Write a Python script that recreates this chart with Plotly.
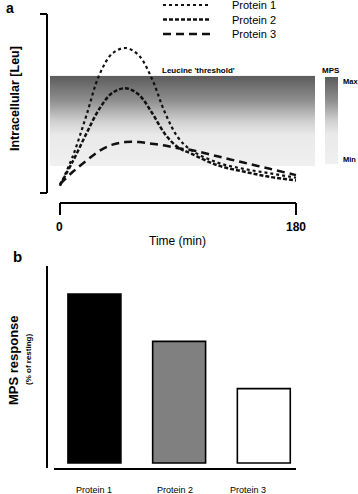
import plotly.graph_objects as go

# ---------------- data ----------------
time_min = [0, 10, 20, 30, 40, 50, 60, 70, 80, 90, 100, 120, 140, 160, 180]
leu_protein1 = [4, 21, 43, 66, 78, 81, 77, 64, 45, 31, 24, 17, 13.5, 11, 8.5]
leu_protein2 = [4.5, 18, 33, 47, 56, 58.5, 55, 45, 33, 25.5, 22, 15.5, 12, 9, 7]
leu_protein3 = [5, 12, 18, 23.5, 27, 28.5, 28.5, 27.5, 26.5, 25, 24, 20.5, 17, 13.5, 10]
series_names = ["Protein 1", "Protein 2", "Protein 3"]

threshold_low = 15.1   # Leu level where MPS gradient starts (Min)
threshold_high = 65.4  # Leu level of full MPS (Max)

proteins = ["Protein 1", "Protein 2", "Protein 3"]
mps_response = [100, 72, 44]

# ---------------- geometry helpers (pixels) ----------------
W, H = 358, 494
def px(x): return x / W
def py(y): return 1 - y / H

T0PX, T180PX = 60, 296
def t_of(xpx): return (xpx - T0PX) / (T180PX - T0PX) * 180

fig = go.Figure()

# gradient "MPS" band
n = 90
ys = [threshold_low + (threshold_high - threshold_low) * i / n for i in range(n + 1)]
zs = [[(i + 0.5) / n] for i in range(n)]
cscale = [[0.0, "#f0f0f0"], [0.35, "#e9e9e9"], [0.5, "#cfcfcf"],
          [0.73, "#8e8e8e"], [1.0, "#5c5c5c"]]
fig.add_trace(go.Heatmap(
    x=[t_of(50), t_of(315)], y=ys, z=zs, colorscale=cscale, zmin=0, zmax=1,
    xaxis="x", yaxis="y", hoverinfo="skip",
    colorbar=dict(x=px(325), xanchor="left", y=py(120.5), yanchor="middle",
                  len=(164 - 77) / H, lenmode="fraction", thickness=13,
                  xpad=0, ypad=0, outlinewidth=0, showticklabels=False, ticks=""),
))

styles = [dict(dash="dot", width=2.2), dict(dash="4px,2px", width=2.5), dict(dash="8px,5px", width=2.5)]
for name, vals, st in zip(series_names, [leu_protein1, leu_protein2, leu_protein3], styles):
    fig.add_trace(go.Scatter(x=time_min, y=vals, mode="lines", name=name,
                             line=dict(color="#111", shape="spline", smoothing=1.0, **st),
                             xaxis="x", yaxis="y", showlegend=False, hoverinfo="skip"))

# bars
fig.add_trace(go.Bar(x=[0, 1, 2], y=mps_response, width=0.625,
                     marker=dict(color=["#000000", "#808080", "#ffffff"],
                                 line=dict(color="#000", width=1.6)),
                     xaxis="x2", yaxis="y2", showlegend=False, hoverinfo="skip"))

shapes = []
blk = dict(color="#000", width=2)
# Leu bracket
shapes += [
    dict(type="line", xref="paper", yref="paper", x0=px(47), x1=px(47), y0=py(14), y1=py(193), line=blk),
    dict(type="line", xref="paper", yref="paper", x0=px(40), x1=px(47), y0=py(14), y1=py(14), line=blk),
    dict(type="line", xref="paper", yref="paper", x0=px(40), x1=px(47), y0=py(193), y1=py(193), line=blk),
]
# time bracket
shapes += [
    dict(type="line", xref="x", yref="paper", x0=0, x1=180, y0=py(203), y1=py(203), line=blk),
    dict(type="line", xref="x", yref="paper", x0=0, x1=0, y0=py(203), y1=py(215), line=blk),
    dict(type="line", xref="x", yref="paper", x0=180, x1=180, y0=py(203), y1=py(215), line=blk),
]
# legend samples
for i, st in enumerate(styles):
    yy = py(5 + i * 14.5)
    shapes.append(dict(type="line", xref="paper", yref="paper", x0=px(163), x1=px(210),
                       y0=yy, y1=yy, line=dict(color="#111", dash=st["dash"], width=st["width"])))
# panel b axes
shapes += [
    dict(type="line", xref="paper", yref="paper", x0=px(47), x1=px(47), y0=py(266), y1=py(468), line=blk),
    dict(type="line", xref="paper", yref="paper", x0=px(54), x1=px(296), y0=py(469), y1=py(469), line=blk),
]

FONT = "Liberation Sans, Arial, sans-serif"
def ann(text, x, y, size, bold=False, xanchor="center", angle=0, **kw):
    t = f"<b>{text}</b>" if bold else text
    return dict(text=t, x=x, y=y, xref="paper", yref="paper", showarrow=False,
                xanchor=xanchor, yanchor="middle", textangle=angle,
                font=dict(family=FONT, size=size, color="#000"), **kw)

annotations = [
    ann("a", px(10), py(8), 14, bold=True),
    ann("b", px(17), py(256), 15, bold=True),
    ann("Intracellular [Leu]", px(15), py(99), 12.5, bold=True, angle=-90),
    ann("Leucine 'threshold'", px(160), py(70), 8, bold=True, xanchor="left"),
    ann("MPS", px(331), py(70), 8, bold=True),
    ann("Max", px(341), py(81), 7.5, bold=True, xanchor="left"),
    ann("Min", px(341), py(159), 7.5, bold=True, xanchor="left"),
    ann("0", px(T0PX), py(227), 12, bold=True),
    ann("180", px(T180PX), py(227), 12, bold=True),
    ann("Time (min)", px(177), py(241), 12),
    ann("MPS response", px(13), py(360), 13, bold=True, angle=-90),
    ann("(% of resting)", px(28), py(360), 8, bold=True, angle=-90),
]
for i, name in enumerate(series_names):
    annotations.append(ann(name, px(230), py(5 + i * 14.5), 11, xanchor="left"))
label_shift = [0, -4, -16]
for i, p in enumerate(proteins):
    annotations.append(dict(text=p, x=i, y=py(490), xref="x2", yref="paper", showarrow=False,
                            xanchor="center", yanchor="middle", xshift=label_shift[i],
                            font=dict(family=FONT, size=9, color="#000")))

fig.update_layout(
    width=W, height=H, autosize=False,
    margin=dict(l=0, r=0, t=0, b=0),
    paper_bgcolor="white", plot_bgcolor="rgba(0,0,0,0)",
    xaxis=dict(domain=[px(47), px(315)], range=[t_of(47), t_of(315)], visible=False, fixedrange=True),
    yaxis=dict(domain=[py(193), py(14)], range=[0, 100], visible=False, fixedrange=True),
    xaxis2=dict(domain=[px(47), px(296)], range=[-0.56, 2.38], visible=False, anchor="y2", fixedrange=True),
    yaxis2=dict(domain=[py(469), py(266)], range=[-3.55, 116.6], visible=False, anchor="x2", fixedrange=True),
    shapes=shapes, annotations=annotations, showlegend=False, hovermode=False,
)

fig.write_html("out.html", config={"displayModeBar": False},
               post_script="document.body.style.margin='0';document.body.style.overflow='hidden';")
